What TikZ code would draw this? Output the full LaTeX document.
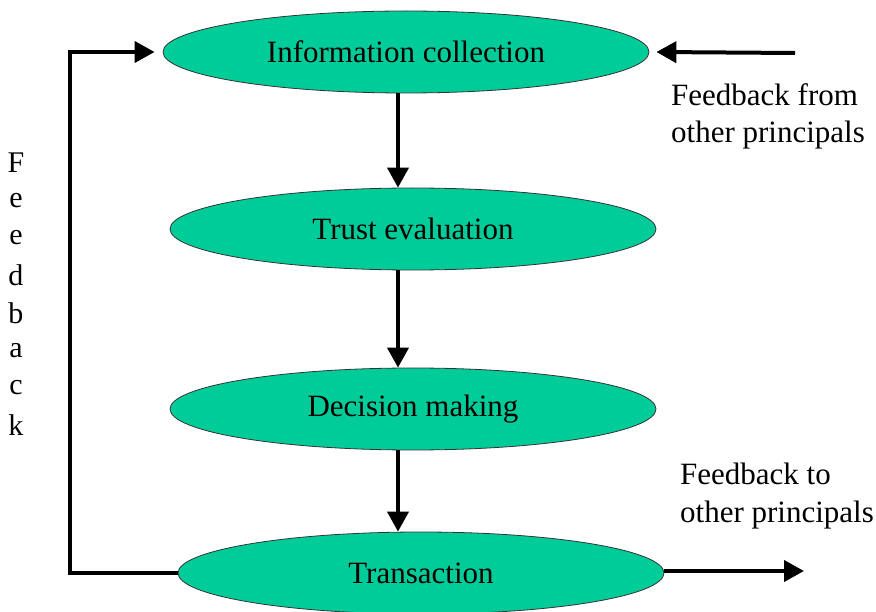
\documentclass[tikz,border=0pt]{standalone}
\usepackage{fontspec}
\setmainfont{Liberation Serif}
\usetikzlibrary{arrows.meta,shapes.geometric}
\definecolor{stagegreen}{RGB}{0,204,153}
\tikzset{
  stage/.style={ellipse, draw=black!80, line width=0.8pt, fill=stagegreen, minimum width=486pt, minimum height=82pt, inner sep=0pt, font=\fontsize{31}{37}\selectfont},
  flow/.style={line width=4pt, -{Triangle[length=20pt,width=21pt]}},
  label/.style={font=\fontsize{31}{37.5}\selectfont, align=left, inner sep=0pt},
  letter/.style={font=\fontsize{30}{36}\selectfont, inner sep=0pt}
}
\begin{document}
\begin{tikzpicture}[x=1pt,y=-1pt]
\useasboundingbox (0,0) rectangle (876,612);
\node[stage] (info) at (406,52) {Information collection};
\node[stage] (trust) at (413,229) {Trust evaluation};
\node[stage] (dec) at (413,409) {Decision making};
\node[stage] (trans) at (421,573) {Transaction};
\draw[flow] (info.south -| 398,0) -- (trust.north -| 398,0);
\draw[flow] (trust.south -| 398,0) -- (dec.north -| 398,0);
\draw[flow] (dec.south -| 398,0) -- (trans.north -| 398,0);
\coordinate (lc) at (70,0);
\coordinate (fbin) at (795,53);
\coordinate (fbout) at (804,571);
\draw[flow] (trans.west) -- (trans.west -| lc) -- (info.west -| lc) -- ([xshift=-8pt]info.west);
\draw[flow] (fbin) -- ([xshift=7pt]info.east);
\draw[flow] (trans.east |- fbout) -- (fbout);
\node[label, anchor=north west] (lblin) at (671,83) {Feedback from\\other principals};
\node[label, anchor=north west] (lblout) at (680,463) {Feedback to\\other principals};
\foreach \c [count=\i] in {F,e,e,d,b,a,c,k} {
  \node[letter] (l\i) at (16,{163+(\i-1)*37.5}) {\c};
}
\end{tikzpicture}
\end{document}
